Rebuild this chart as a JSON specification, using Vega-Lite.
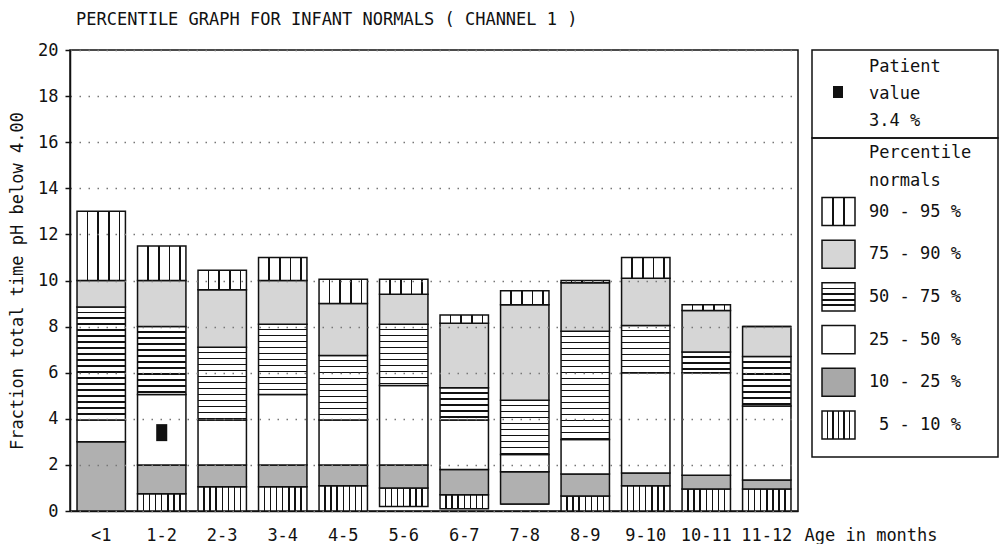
{
  "$schema": "https://vega.github.io/schema/vega-lite/v6.json",
  "background": "white",
  "padding": {"left": 7, "top": 10, "right": 0, "bottom": 0},
  "spacing": 14,
  "bounds": "flush",
  "config": {
    "font": "DejaVu Sans Mono",
    "view": {"stroke": "#111", "strokeWidth": 1.5},
    "text": {"font": "DejaVu Sans Mono", "fontSize": 17, "color": "#111"}
  },
  "hconcat": [
    {
      "width": 728,
      "height": 461,
      "title": {"text": "PERCENTILE GRAPH FOR INFANT NORMALS ( CHANNEL 1 )", "anchor": "start", "frame": "group", "fontSize": 17, "fontWeight": "normal", "color": "#111", "offset": 12, "dx": 6, "font": "DejaVu Sans Mono"},
      "layer": [
        {
          "data": {"values": [
            {"age": "<1", "seg": "5-10", "lo": 0, "hi": 0},
            {"age": "<1", "seg": "10-25", "lo": 0, "hi": 3.0},
            {"age": "<1", "seg": "25-50", "lo": 3.0, "hi": 3.95},
            {"age": "<1", "seg": "50-75", "lo": 3.95, "hi": 8.85},
            {"age": "<1", "seg": "75-90", "lo": 8.85, "hi": 10.0},
            {"age": "<1", "seg": "90-95", "lo": 10.0, "hi": 13.0},
            {"age": "1-2", "seg": "5-10", "lo": 0, "hi": 0.75},
            {"age": "1-2", "seg": "10-25", "lo": 0.75, "hi": 2.0},
            {"age": "1-2", "seg": "25-50", "lo": 2.0, "hi": 5.05},
            {"age": "1-2", "seg": "50-75", "lo": 5.05, "hi": 8.0},
            {"age": "1-2", "seg": "75-90", "lo": 8.0, "hi": 10.0},
            {"age": "1-2", "seg": "90-95", "lo": 10.0, "hi": 11.5},
            {"age": "2-3", "seg": "5-10", "lo": 0, "hi": 1.05},
            {"age": "2-3", "seg": "10-25", "lo": 1.05, "hi": 2.0},
            {"age": "2-3", "seg": "25-50", "lo": 2.0, "hi": 3.95},
            {"age": "2-3", "seg": "50-75", "lo": 3.95, "hi": 7.1},
            {"age": "2-3", "seg": "75-90", "lo": 7.1, "hi": 9.6},
            {"age": "2-3", "seg": "90-95", "lo": 9.6, "hi": 10.45},
            {"age": "3-4", "seg": "5-10", "lo": 0, "hi": 1.05},
            {"age": "3-4", "seg": "10-25", "lo": 1.05, "hi": 2.0},
            {"age": "3-4", "seg": "25-50", "lo": 2.0, "hi": 5.05},
            {"age": "3-4", "seg": "50-75", "lo": 5.05, "hi": 8.1},
            {"age": "3-4", "seg": "75-90", "lo": 8.1, "hi": 10.0},
            {"age": "3-4", "seg": "90-95", "lo": 10.0, "hi": 11.0},
            {"age": "4-5", "seg": "5-10", "lo": 0, "hi": 1.1},
            {"age": "4-5", "seg": "10-25", "lo": 1.1, "hi": 2.0},
            {"age": "4-5", "seg": "25-50", "lo": 2.0, "hi": 3.95},
            {"age": "4-5", "seg": "50-75", "lo": 3.95, "hi": 6.75},
            {"age": "4-5", "seg": "75-90", "lo": 6.75, "hi": 9.0},
            {"age": "4-5", "seg": "90-95", "lo": 9.0, "hi": 10.05},
            {"age": "5-6", "seg": "5-10", "lo": 0.2, "hi": 1.0},
            {"age": "5-6", "seg": "10-25", "lo": 1.0, "hi": 2.0},
            {"age": "5-6", "seg": "25-50", "lo": 2.0, "hi": 5.45},
            {"age": "5-6", "seg": "50-75", "lo": 5.45, "hi": 8.1},
            {"age": "5-6", "seg": "75-90", "lo": 8.1, "hi": 9.4},
            {"age": "5-6", "seg": "90-95", "lo": 9.4, "hi": 10.05},
            {"age": "6-7", "seg": "5-10", "lo": 0.1, "hi": 0.7},
            {"age": "6-7", "seg": "10-25", "lo": 0.7, "hi": 1.8},
            {"age": "6-7", "seg": "25-50", "lo": 1.8, "hi": 3.95},
            {"age": "6-7", "seg": "50-75", "lo": 3.95, "hi": 5.35},
            {"age": "6-7", "seg": "75-90", "lo": 5.35, "hi": 8.15},
            {"age": "6-7", "seg": "90-95", "lo": 8.15, "hi": 8.5},
            {"age": "7-8", "seg": "5-10", "lo": 0.3, "hi": 0.3},
            {"age": "7-8", "seg": "10-25", "lo": 0.3, "hi": 1.7},
            {"age": "7-8", "seg": "25-50", "lo": 1.7, "hi": 2.45},
            {"age": "7-8", "seg": "50-75", "lo": 2.45, "hi": 4.8},
            {"age": "7-8", "seg": "75-90", "lo": 4.8, "hi": 8.95},
            {"age": "7-8", "seg": "90-95", "lo": 8.95, "hi": 9.55},
            {"age": "8-9", "seg": "5-10", "lo": 0, "hi": 0.65},
            {"age": "8-9", "seg": "10-25", "lo": 0.65, "hi": 1.6},
            {"age": "8-9", "seg": "25-50", "lo": 1.6, "hi": 3.1},
            {"age": "8-9", "seg": "50-75", "lo": 3.1, "hi": 7.8},
            {"age": "8-9", "seg": "75-90", "lo": 7.8, "hi": 9.9},
            {"age": "8-9", "seg": "90-95", "lo": 9.9, "hi": 10.0},
            {"age": "9-10", "seg": "5-10", "lo": 0, "hi": 1.1},
            {"age": "9-10", "seg": "10-25", "lo": 1.1, "hi": 1.65},
            {"age": "9-10", "seg": "25-50", "lo": 1.65, "hi": 6.0},
            {"age": "9-10", "seg": "50-75", "lo": 6.0, "hi": 8.05},
            {"age": "9-10", "seg": "75-90", "lo": 8.05, "hi": 10.1},
            {"age": "9-10", "seg": "90-95", "lo": 10.1, "hi": 11.0},
            {"age": "10-11", "seg": "5-10", "lo": 0, "hi": 0.95},
            {"age": "10-11", "seg": "10-25", "lo": 0.95, "hi": 1.55},
            {"age": "10-11", "seg": "25-50", "lo": 1.55, "hi": 6.0},
            {"age": "10-11", "seg": "50-75", "lo": 6.0, "hi": 6.9},
            {"age": "10-11", "seg": "75-90", "lo": 6.9, "hi": 8.7},
            {"age": "10-11", "seg": "90-95", "lo": 8.7, "hi": 8.95},
            {"age": "11-12", "seg": "5-10", "lo": 0, "hi": 0.95},
            {"age": "11-12", "seg": "10-25", "lo": 0.95, "hi": 1.35},
            {"age": "11-12", "seg": "25-50", "lo": 1.35, "hi": 4.55},
            {"age": "11-12", "seg": "50-75", "lo": 4.55, "hi": 6.7},
            {"age": "11-12", "seg": "75-90", "lo": 6.7, "hi": 8.0},
            {"age": "11-12", "seg": "90-95", "lo": 8.0, "hi": 8.0}
          ]},
          "mark": {"type": "bar", "stroke": "#111", "strokeWidth": 1.5},
          "encoding": {
            "x": {
              "field": "age", "type": "nominal", "title": "Age in months",
              "scale": {"domain": ["<1", "1-2", "2-3", "3-4", "4-5", "5-6", "6-7", "7-8", "8-9", "9-10", "10-11", "11-12"], "paddingInner": 0.2, "paddingOuter": 0.116},
              "axis": {"ticks": false, "domainColor": "#111", "domainWidth": 1.5, "labelFontSize": 17, "labelColor": "#111", "labelPadding": 16, "labelAngle": 0, "labelFont": "DejaVu Sans Mono", "titleFont": "DejaVu Sans Mono", "titleFontSize": 17, "titleFontWeight": "normal", "titleColor": "#111", "titleX": 734, "titleY": 16, "titleAlign": "left", "titleBaseline": "top"}
            },
            "y": {
              "field": "lo", "type": "quantitative", "title": "Fraction total time pH below 4.00",
              "scale": {"domain": [0, 20], "nice": false},
              "axis": {"values": [0, 2, 4, 6, 8, 10, 12, 14, 16, 18, 20], "tickSize": 5, "tickColor": "#111", "tickWidth": 1.5, "domainColor": "#111", "domainWidth": 1.5, "labelFontSize": 17, "labelColor": "#111", "labelPadding": 7, "labelFont": "DejaVu Sans Mono", "titleFont": "DejaVu Sans Mono", "titleFontSize": 17, "titleFontWeight": "normal", "titleColor": "#111", "titlePadding": 15, "titleBaseline": "alphabetic", "grid": true, "gridDash": [1.5, 7.5], "gridColor": "#777", "gridWidth": 1.3, "zindex": 1}
            },
            "y2": {"field": "hi"},
            "fill": {"value": {"expr": "datum.seg==='90-95'?{gradient:'linear',x1:0,y1:0,x2:1,y2:0,stops:[{offset:0.2,color:'#fff'},{offset:0.2,color:'#111'},{offset:0.235,color:'#111'},{offset:0.235,color:'#fff'},{offset:0.42,color:'#fff'},{offset:0.42,color:'#111'},{offset:0.455,color:'#111'},{offset:0.455,color:'#fff'},{offset:0.64,color:'#fff'},{offset:0.64,color:'#111'},{offset:0.675,color:'#111'},{offset:0.675,color:'#fff'},{offset:0.86,color:'#fff'},{offset:0.86,color:'#111'},{offset:0.895,color:'#111'},{offset:0.895,color:'#fff'}]}:datum.seg==='75-90'?'#d6d6d6':datum.seg==='50-75'?{gradient:'linear',x1:0,y1:0,x2:0,y2:1,stops:[{offset:min(1,0.195/(datum.hi-datum.lo)),color:'#fff'},{offset:min(1,0.195/(datum.hi-datum.lo)),color:'#111'},{offset:min(1,0.26/(datum.hi-datum.lo)),color:'#111'},{offset:min(1,0.26/(datum.hi-datum.lo)),color:'#fff'},{offset:min(1,0.455/(datum.hi-datum.lo)),color:'#fff'},{offset:min(1,0.455/(datum.hi-datum.lo)),color:'#111'},{offset:min(1,0.52/(datum.hi-datum.lo)),color:'#111'},{offset:min(1,0.52/(datum.hi-datum.lo)),color:'#fff'},{offset:min(1,0.715/(datum.hi-datum.lo)),color:'#fff'},{offset:min(1,0.715/(datum.hi-datum.lo)),color:'#111'},{offset:min(1,0.78/(datum.hi-datum.lo)),color:'#111'},{offset:min(1,0.78/(datum.hi-datum.lo)),color:'#fff'},{offset:min(1,0.975/(datum.hi-datum.lo)),color:'#fff'},{offset:min(1,0.975/(datum.hi-datum.lo)),color:'#111'},{offset:min(1,1.04/(datum.hi-datum.lo)),color:'#111'},{offset:min(1,1.04/(datum.hi-datum.lo)),color:'#fff'},{offset:min(1,1.235/(datum.hi-datum.lo)),color:'#fff'},{offset:min(1,1.235/(datum.hi-datum.lo)),color:'#111'},{offset:min(1,1.3/(datum.hi-datum.lo)),color:'#111'},{offset:min(1,1.3/(datum.hi-datum.lo)),color:'#fff'},{offset:min(1,1.495/(datum.hi-datum.lo)),color:'#fff'},{offset:min(1,1.495/(datum.hi-datum.lo)),color:'#111'},{offset:min(1,1.56/(datum.hi-datum.lo)),color:'#111'},{offset:min(1,1.56/(datum.hi-datum.lo)),color:'#fff'},{offset:min(1,1.755/(datum.hi-datum.lo)),color:'#fff'},{offset:min(1,1.755/(datum.hi-datum.lo)),color:'#111'},{offset:min(1,1.82/(datum.hi-datum.lo)),color:'#111'},{offset:min(1,1.82/(datum.hi-datum.lo)),color:'#fff'},{offset:min(1,2.015/(datum.hi-datum.lo)),color:'#fff'},{offset:min(1,2.015/(datum.hi-datum.lo)),color:'#111'},{offset:min(1,2.08/(datum.hi-datum.lo)),color:'#111'},{offset:min(1,2.08/(datum.hi-datum.lo)),color:'#fff'},{offset:min(1,2.275/(datum.hi-datum.lo)),color:'#fff'},{offset:min(1,2.275/(datum.hi-datum.lo)),color:'#111'},{offset:min(1,2.34/(datum.hi-datum.lo)),color:'#111'},{offset:min(1,2.34/(datum.hi-datum.lo)),color:'#fff'},{offset:min(1,2.535/(datum.hi-datum.lo)),color:'#fff'},{offset:min(1,2.535/(datum.hi-datum.lo)),color:'#111'},{offset:min(1,2.6/(datum.hi-datum.lo)),color:'#111'},{offset:min(1,2.6/(datum.hi-datum.lo)),color:'#fff'},{offset:min(1,2.795/(datum.hi-datum.lo)),color:'#fff'},{offset:min(1,2.795/(datum.hi-datum.lo)),color:'#111'},{offset:min(1,2.86/(datum.hi-datum.lo)),color:'#111'},{offset:min(1,2.86/(datum.hi-datum.lo)),color:'#fff'},{offset:min(1,3.055/(datum.hi-datum.lo)),color:'#fff'},{offset:min(1,3.055/(datum.hi-datum.lo)),color:'#111'},{offset:min(1,3.12/(datum.hi-datum.lo)),color:'#111'},{offset:min(1,3.12/(datum.hi-datum.lo)),color:'#fff'},{offset:min(1,3.315/(datum.hi-datum.lo)),color:'#fff'},{offset:min(1,3.315/(datum.hi-datum.lo)),color:'#111'},{offset:min(1,3.38/(datum.hi-datum.lo)),color:'#111'},{offset:min(1,3.38/(datum.hi-datum.lo)),color:'#fff'},{offset:min(1,3.575/(datum.hi-datum.lo)),color:'#fff'},{offset:min(1,3.575/(datum.hi-datum.lo)),color:'#111'},{offset:min(1,3.64/(datum.hi-datum.lo)),color:'#111'},{offset:min(1,3.64/(datum.hi-datum.lo)),color:'#fff'},{offset:min(1,3.835/(datum.hi-datum.lo)),color:'#fff'},{offset:min(1,3.835/(datum.hi-datum.lo)),color:'#111'},{offset:min(1,3.9/(datum.hi-datum.lo)),color:'#111'},{offset:min(1,3.9/(datum.hi-datum.lo)),color:'#fff'},{offset:min(1,4.095/(datum.hi-datum.lo)),color:'#fff'},{offset:min(1,4.095/(datum.hi-datum.lo)),color:'#111'},{offset:min(1,4.16/(datum.hi-datum.lo)),color:'#111'},{offset:min(1,4.16/(datum.hi-datum.lo)),color:'#fff'},{offset:min(1,4.355/(datum.hi-datum.lo)),color:'#fff'},{offset:min(1,4.355/(datum.hi-datum.lo)),color:'#111'},{offset:min(1,4.42/(datum.hi-datum.lo)),color:'#111'},{offset:min(1,4.42/(datum.hi-datum.lo)),color:'#fff'},{offset:min(1,4.615/(datum.hi-datum.lo)),color:'#fff'},{offset:min(1,4.615/(datum.hi-datum.lo)),color:'#111'},{offset:min(1,4.68/(datum.hi-datum.lo)),color:'#111'},{offset:min(1,4.68/(datum.hi-datum.lo)),color:'#fff'}]}:datum.seg==='25-50'?'#ffffff':datum.seg==='10-25'?'#b0b0b0':{gradient:'linear',x1:0,y1:0,x2:1,y2:0,stops:[{offset:0.11,color:'#fff'},{offset:0.11,color:'#111'},{offset:0.14,color:'#111'},{offset:0.14,color:'#fff'},{offset:0.235,color:'#fff'},{offset:0.235,color:'#111'},{offset:0.265,color:'#111'},{offset:0.265,color:'#fff'},{offset:0.36,color:'#fff'},{offset:0.36,color:'#111'},{offset:0.39,color:'#111'},{offset:0.39,color:'#fff'},{offset:0.485,color:'#fff'},{offset:0.485,color:'#111'},{offset:0.515,color:'#111'},{offset:0.515,color:'#fff'},{offset:0.61,color:'#fff'},{offset:0.61,color:'#111'},{offset:0.64,color:'#111'},{offset:0.64,color:'#fff'},{offset:0.735,color:'#fff'},{offset:0.735,color:'#111'},{offset:0.765,color:'#111'},{offset:0.765,color:'#fff'},{offset:0.86,color:'#fff'},{offset:0.86,color:'#111'},{offset:0.89,color:'#111'},{offset:0.89,color:'#fff'}]}"}}
          }
        },
        {
          "data": {"values": [{"age": "1-2", "patient": 3.4}]},
          "mark": {"type": "point", "shape": "M-0.65,-1H0.65V1H-0.65Z", "filled": true, "color": "#111", "size": 289, "opacity": 1},
          "encoding": {
            "x": {"field": "age", "type": "nominal", "title": "Age in months"},
            "y": {"field": "patient", "type": "quantitative", "title": "Fraction total time pH below 4.00"}
          }
        }
      ]
    },
    {
      "vconcat": [
        {
          "width": 186,
          "height": 88,
          "layer": [
            {
              "data": {"values": [{"item": "Patient value", "shown": "square"}]},
              "mark": {"type": "point", "shape": "M-0.83,-1H0.83V1H-0.83Z", "filled": true, "color": "#111", "size": 144, "opacity": 1},
              "encoding": {"x": {"value": 26}, "y": {"value": 42}}
            },
            {
              "data": {"values": [{"label": "Patient\nvalue\n3.4 %"}]},
              "mark": {"type": "text", "align": "left", "baseline": "middle", "lineBreak": "\n", "lineHeight": 27, "fontSize": 17, "color": "#111"},
              "encoding": {"x": {"value": 57}, "y": {"value": 17}, "text": {"field": "label"}}
            }
          ]
        },
        {
          "width": 186,
          "height": 319,
          "layer": [
            {
              "data": {"values": [{"label": "Percentile\nnormals"}]},
              "mark": {"type": "text", "align": "left", "baseline": "middle", "lineBreak": "\n", "lineHeight": 28, "fontSize": 17, "color": "#111"},
              "encoding": {"x": {"value": 57}, "y": {"value": 14.5}, "text": {"field": "label"}}
            },
            {
              "data": {"values": [
                {"seg": "90-95", "label": "90 - 95 %"},
                {"seg": "75-90", "label": "75 - 90 %"},
                {"seg": "50-75", "label": "50 - 75 %"},
                {"seg": "25-50", "label": "25 - 50 %"},
                {"seg": "10-25", "label": "10 - 25 %"},
                {"seg": "5-10", "label": "5 - 10 %"}
              ]},
              "layer": [
                {
                  "mark": {"type": "point", "shape": "M-1,-0.85H1V0.85H-1Z", "size": 1089, "filled": true, "opacity": 1, "stroke": "#111", "strokeWidth": 1.5},
                  "encoding": {
                    "x": {"value": 26.5},
                    "y": {"field": "seg", "type": "nominal", "scale": {"domain": ["90-95", "75-90", "50-75", "25-50", "10-25", "5-10"], "range": [73.5, 287], "padding": 0}, "axis": null},
                    "fill": {"value": {"expr": "datum.seg==='90-95'?{gradient:'linear',x1:0,y1:0,x2:1,y2:0,stops:[{offset:0.31,color:'#fff'},{offset:0.31,color:'#111'},{offset:0.355,color:'#111'},{offset:0.355,color:'#fff'},{offset:0.645,color:'#fff'},{offset:0.645,color:'#111'},{offset:0.69,color:'#111'},{offset:0.69,color:'#fff'}]}:datum.seg==='75-90'?'#d6d6d6':datum.seg==='50-75'?{gradient:'linear',x1:0,y1:0,x2:0,y2:1,stops:[{offset:0.17,color:'#fff'},{offset:0.17,color:'#111'},{offset:0.23,color:'#111'},{offset:0.23,color:'#fff'},{offset:0.37,color:'#fff'},{offset:0.37,color:'#111'},{offset:0.43,color:'#111'},{offset:0.43,color:'#fff'},{offset:0.57,color:'#fff'},{offset:0.57,color:'#111'},{offset:0.63,color:'#111'},{offset:0.63,color:'#fff'},{offset:0.77,color:'#fff'},{offset:0.77,color:'#111'},{offset:0.83,color:'#111'},{offset:0.83,color:'#fff'}]}:datum.seg==='25-50'?'#ffffff':datum.seg==='10-25'?'#a8a8a8':{gradient:'linear',x1:0,y1:0,x2:1,y2:0,stops:[{offset:0.145,color:'#fff'},{offset:0.145,color:'#111'},{offset:0.19,color:'#111'},{offset:0.19,color:'#fff'},{offset:0.31,color:'#fff'},{offset:0.31,color:'#111'},{offset:0.355,color:'#111'},{offset:0.355,color:'#fff'},{offset:0.478,color:'#fff'},{offset:0.478,color:'#111'},{offset:0.522,color:'#111'},{offset:0.522,color:'#fff'},{offset:0.645,color:'#fff'},{offset:0.645,color:'#111'},{offset:0.69,color:'#111'},{offset:0.69,color:'#fff'},{offset:0.81,color:'#fff'},{offset:0.81,color:'#111'},{offset:0.855,color:'#111'},{offset:0.855,color:'#fff'}]}"}}
                  }
                },
                {
                  "mark": {"type": "text", "align": "right", "baseline": "middle", "fontSize": 17, "color": "#111"},
                  "encoding": {
                    "x": {"value": 149},
                    "y": {"field": "seg", "type": "nominal", "axis": null},
                    "text": {"field": "label"}
                  }
                }
              ]
            }
          ]
        }
      ],
      "spacing": 0,
      "bounds": "flush"
    }
  ]
}
